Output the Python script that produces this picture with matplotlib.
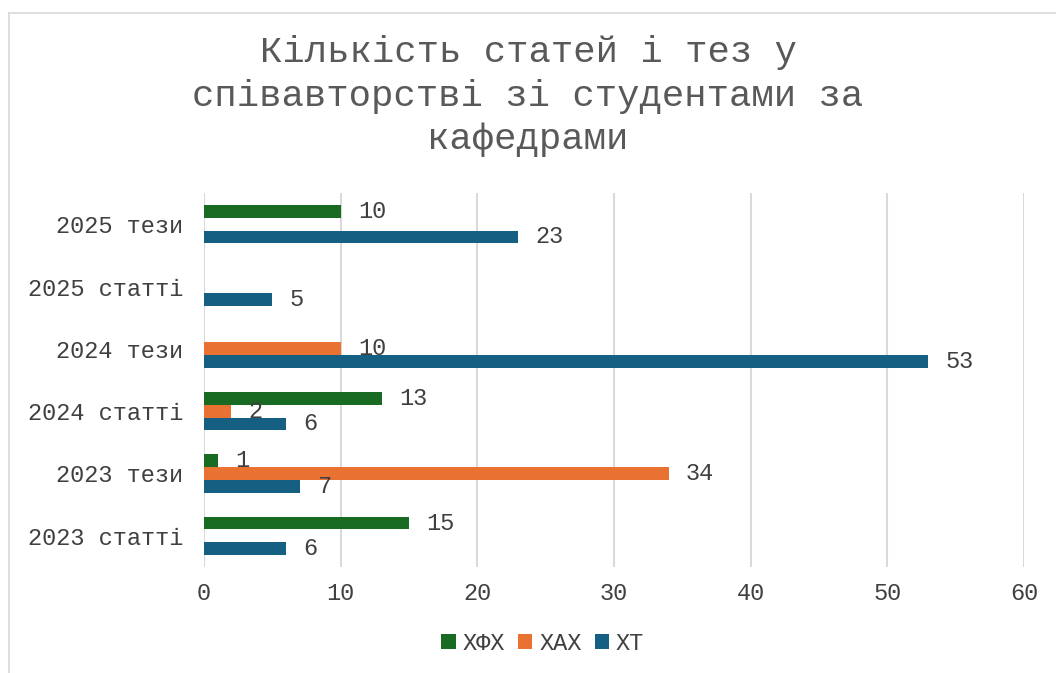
import matplotlib.pyplot as plt
import matplotlib.lines as mlines
import numpy as np

categories = ["2023 статті", "2023 тези", "2024 статті", "2024 тези", "2025 статті", "2025 тези"]
xfx = [15, 1, 13, None, None, 10]
xax = [None, 34, 2, 10, None, None]
xt = [6, 7, 6, 53, 5, 23]
series_names = ["ХФХ", "ХАХ", "ХТ"]
colors = ["#196B24", "#E97132", "#156082"]
title = "Кількість статей і тез у\nспівавторстві зі студентами за\nкафедрами"

plt.rcParams['font.family'] = ['Liberation Mono', 'DejaVu Sans Mono']

fig = plt.figure(figsize=(10.56, 6.73), dpi=100)
ax = fig.add_axes([204 / 1056, 1 - 567 / 673, 820 / 1056, 374 / 673])

y = np.arange(len(categories))
h = 0.204
offsets = [h, 0, -h]
for vals, name, col, off in zip([xfx, xax, xt], series_names, colors, offsets):
    v = np.array([np.nan if a is None else a for a in vals], dtype=float)
    ax.barh(y + off, np.nan_to_num(v), height=h, color=col, label=name)
    for yy, val in zip(y + off, v):
        if not np.isnan(val):
            ax.annotate(f"{val:g}", (val, yy), xytext=(12.5, 0), textcoords="offset points",
                        va="center", ha="left", fontsize=17, color="#404040")

ax.set_xlim(0, 60)
ax.set_ylim(-0.5, 5.5)
ax.set_xticks(range(0, 61, 10))
ax.set_yticks(y)
ax.set_yticklabels(categories)
ax.tick_params(axis="both", length=0, labelsize=17, labelcolor="#404040")
ax.tick_params(axis="x", pad=11)
ax.tick_params(axis="y", pad=15)
ax.grid(axis="x", color="#d9d9d9", linewidth=1.5)
ax.set_axisbelow(True)
for s in ax.spines.values():
    s.set_visible(False)

fig.text(0.5, 1 - 96 / 673, title, ha="center", va="center", fontsize=26.8,
         color="#595959", linespacing=1.3)

fig.legend(loc="center", bbox_to_anchor=(0.514, 1 - 643 / 673), ncol=3, frameon=False,
           fontsize=17, handlelength=0.6, handleheight=0.6, handletextpad=0.3,
           columnspacing=0.55, labelcolor="#404040")

# chart border (left and top edges visible)
fig.add_artist(mlines.Line2D([8.5 / 1056, 8.5 / 1056], [0, 1 - 13 / 673],
                             transform=fig.transFigure, color="#d9d9d9", linewidth=1.2))
fig.add_artist(mlines.Line2D([8.5 / 1056, 1], [1 - 13 / 673, 1 - 13 / 673],
                             transform=fig.transFigure, color="#d9d9d9", linewidth=1.2))

fig.savefig("out.png", dpi=100)
